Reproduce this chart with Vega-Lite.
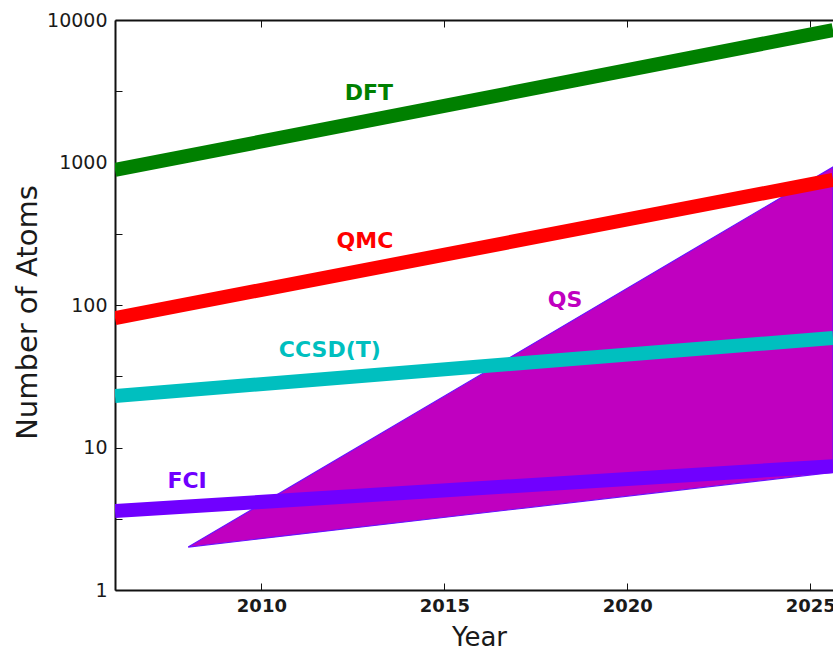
{
  "$schema": "https://vega.github.io/schema/vega-lite/v6.json",
  "width": 718,
  "height": 570,
  "autosize": {"type": "none"},
  "padding": {"left": 115, "top": 20, "right": 0, "bottom": 61},
  "background": "white",
  "config": {
    "view": {"stroke": null},
    "font": "DejaVu Sans",
    "axis": {
      "grid": false,
      "domainColor": "#111111",
      "domainWidth": 2,
      "tickColor": "#111111",
      "tickWidth": 1,
      "tickSize": -7,
      "labelFont": "DejaVu Sans",
      "labelColor": "#1a1a1a",
      "labelFontSize": 19,
      "titleFont": "DejaVu Sans",
      "titleFontWeight": "normal",
      "titleColor": "#1a1a1a"
    }
  },
  "datasets": {
    "methods": [
      {"method": "DFT", "year": 2006, "atoms": 886},
      {"method": "DFT", "year": 2025.62, "atoms": 8500},
      {"method": "QMC", "year": 2006, "atoms": 81},
      {"method": "QMC", "year": 2025.62, "atoms": 754},
      {"method": "CCSD(T)", "year": 2006, "atoms": 23},
      {"method": "CCSD(T)", "year": 2025.62, "atoms": 58.7},
      {"method": "FCI", "year": 2006, "atoms": 3.58},
      {"method": "FCI", "year": 2025.62, "atoms": 7.4}
    ],
    "qs": [
      {"year": 2008, "upper": 2, "lower": 2},
      {"year": 2025.62, "upper": 930, "lower": 6.7}
    ],
    "labels": [
      {"method": "DFT", "year": 2012.94, "atoms": 3050},
      {"method": "QMC", "year": 2012.83, "atoms": 280},
      {"method": "QS", "year": 2018.3, "atoms": 108},
      {"method": "CCSD(T)", "year": 2011.87, "atoms": 48.3},
      {"method": "FCI", "year": 2007.97, "atoms": 5.82}
    ]
  },
  "layer": [
    {
      "data": {"name": "qs"},
      "mark": {"type": "area", "fill": "#c000c0", "stroke": "#6a10ff", "strokeWidth": 1.2, "clip": true},
      "encoding": {
        "x": {
          "field": "year", "type": "quantitative",
          "scale": {"domain": [2006, 2025.62], "nice": false, "zero": false},
          "axis": {
            "orient": "bottom",
            "values": [2010, 2015, 2020, 2025],
            "format": "d",
            "labelFontWeight": "bold",
            "labelFontSize": 18,
            "labelPadding": 14,
            "title": "Year",
            "titleFontSize": 26,
            "titleX": 364,
            "titleY": 55,
            "titleAlign": "center",
            "titleBaseline": "alphabetic"
          }
        },
        "y": {
          "field": "upper", "type": "quantitative",
          "scale": {"type": "log", "domain": [1, 10000], "nice": false},
          "axis": {
            "values": [1, 3.1623, 10, 31.623, 100, 316.23, 1000, 3162.3, 10000],
            "labelExpr": "abs(log(datum.value) / LN10 - round(log(datum.value) / LN10)) < 0.01 ? format(datum.value, 'd') : ''",
            "labelPadding": 15,
            "title": "Number of Atoms",
            "titleFontSize": 29,
            "titleX": -88,
            "titleY": 292,
            "titleAngle": -90,
            "titleAlign": "center",
            "titleBaseline": "middle"
          }
        },
        "y2": {"field": "lower"}
      }
    },
    {
      "data": {"name": "methods"},
      "mark": {"type": "line", "strokeWidth": 14, "strokeCap": "butt", "clip": true},
      "encoding": {
        "x": {"field": "year", "type": "quantitative", "axis": null},
        "y": {"field": "atoms", "type": "quantitative"},
        "detail": {"field": "method"},
        "color": {
          "field": "method", "type": "nominal",
          "scale": {
            "domain": ["DFT", "QMC", "CCSD(T)", "FCI", "QS"],
            "range": ["#008000", "#ff0000", "#00bfbf", "#7000ff", "#c000c0"]
          },
          "legend": null
        }
      }
    },
    {
      "data": {"name": "labels"},
      "mark": {"type": "text", "fontSize": 22, "fontWeight": "bold", "font": "DejaVu Sans", "align": "center", "baseline": "middle"},
      "encoding": {
        "x": {"field": "year", "type": "quantitative", "axis": null},
        "y": {"field": "atoms", "type": "quantitative"},
        "text": {"field": "method"},
        "color": {"field": "method", "type": "nominal", "legend": null}
      }
    },
    {
      "data": {"name": "qs"},
      "mark": {"type": "point", "opacity": 0},
      "encoding": {
        "x": {
          "field": "year", "type": "quantitative",
          "axis": {"orient": "top", "values": [2010, 2015, 2020, 2025], "labels": false, "title": null}
        },
        "y": {"field": "lower", "type": "quantitative"}
      }
    }
  ],
  "resolve": {"axis": {"x": "independent"}}
}
